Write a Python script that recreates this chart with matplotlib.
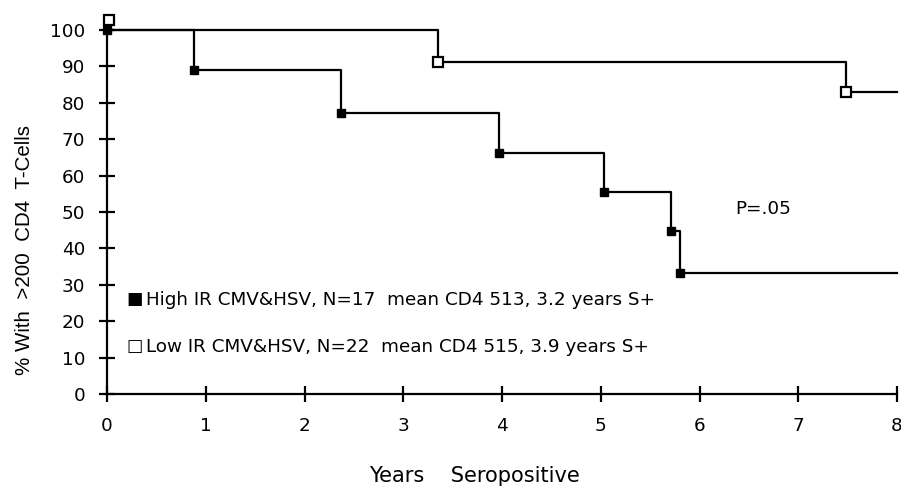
import matplotlib
matplotlib.use("Agg")
import matplotlib.pyplot as plt

# High IR CMV&HSV (filled squares): step times and survival levels
high_t = [0.0, 0.88, 2.37, 3.97, 5.03, 5.71, 5.80, 8.0]
high_s = [100, 89, 77.3, 66.3, 55.5, 44.8, 33.2, 33.2]
high_mark_t = [0.0, 0.88, 2.37, 3.97, 5.03, 5.71, 5.80]
high_mark_s = [100, 89, 77.3, 66.3, 55.5, 44.8, 33.2]

# Low IR CMV&HSV (open squares)
low_t = [0.0, 3.35, 7.48, 8.0]
low_s = [100, 91.2, 83.0, 83.0]
low_mark_t = [0.02, 3.35, 7.48]
low_mark_s = [102.8, 91.2, 83.0]

xticks = [0, 1, 2, 3, 4, 5, 6, 7, 8]
yticks = [0, 10, 20, 30, 40, 50, 60, 70, 80, 90, 100]

legend_high = "High IR CMV&HSV, N=17  mean CD4 513, 3.2 years S+"
legend_low = "Low IR CMV&HSV, N=22  mean CD4 515, 3.9 years S+"

fig = plt.figure(figsize=(9.01, 4.90), dpi=100)
ax = fig.add_axes([107/901, 1-394/490, (897-107)/901, (394-30)/490])

ax.step(high_t, high_s, where="post", color="black", lw=1.6, clip_on=False)
ax.step(low_t, low_s, where="post", color="black", lw=1.6, clip_on=False)
ax.plot(high_mark_t, high_mark_s, ls="none", marker="s", ms=5.5,
        mfc="black", mec="black", clip_on=False, zorder=5)
ax.plot(low_mark_t, low_mark_s, ls="none", marker="s", ms=7.5,
        mfc="white", mec="black", mew=1.6, clip_on=False, zorder=5)

ax.set_xlim(0, 8)
ax.set_ylim(0, 100)
ax.set_xticks(xticks)
ax.set_yticks(yticks)
for s in ["top", "right"]:
    ax.spines[s].set_visible(False)
for s in ["left", "bottom"]:
    ax.spines[s].set_linewidth(1.6)
ax.tick_params(direction="inout", length=11, width=1.6, labelsize=13.2)
ax.tick_params(axis="x", pad=11)
ax.tick_params(axis="y", pad=10)
for lab in ax.get_xticklabels() + ax.get_yticklabels():
    lab.set_family("DejaVu Sans")

fig.text(25/901, 1-250/490, "% With  >200  CD4  T-Cells", rotation=90,
         ha="center", va="center", fontsize=14.8, family="Liberation Sans")
fig.text(474/901, 1-476/490, "Years    Seropositive", ha="center", va="center",
         fontsize=15, family="DejaVu Sans")

fig.text(135/901, 1-299/490, "■", ha="center", va="center", fontsize=12.5, family="DejaVu Sans")
fig.text(135/901, 1-346/490, "□", ha="center", va="center", fontsize=12.5, family="DejaVu Sans")
fig.text(146/901, 1-300/490, legend_high, ha="left", va="center", fontsize=13.2, family="DejaVu Sans")
fig.text(146/901, 1-347/490, legend_low, ha="left", va="center", fontsize=13.2, family="DejaVu Sans")
fig.text(735/901, 1-209/490, "P=.05", ha="left", va="center", fontsize=13.2, family="DejaVu Sans")

fig.savefig("out.png", dpi=100)
